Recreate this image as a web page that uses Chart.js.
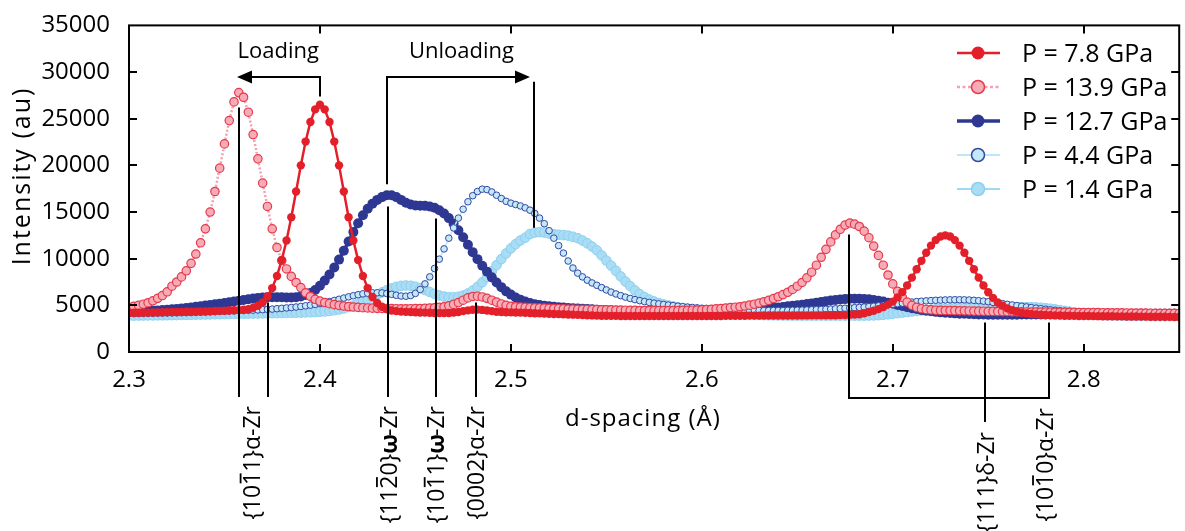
<!DOCTYPE html>
<html><head><meta charset="utf-8">
<script src="https://cdn.jsdelivr.net/npm/chart.js@4.4.1/dist/chart.umd.min.js"></script>
<style>html,body{margin:0;padding:0;background:#fff;}canvas{display:block;}</style>
</head><body>
<canvas id="c" width="1185" height="531"></canvas>
<script>
// ---------------- data ----------------
const dSpacing = [
2.3,2.3025,2.305,2.3075,2.31,2.3125,2.315,2.3175,2.32,2.3225,
2.325,2.3275,2.33,2.3325,2.335,2.3375,2.34,2.3425,2.345,2.3475,
2.35,2.3525,2.355,2.3575,2.36,2.3625,2.365,2.3675,2.37,2.3725,
2.375,2.3775,2.38,2.3825,2.385,2.3875,2.39,2.3925,2.395,2.3975,
2.4,2.4025,2.405,2.4075,2.41,2.4125,2.415,2.4175,2.42,2.4225,
2.425,2.4275,2.43,2.4325,2.435,2.4375,2.44,2.4425,2.445,2.4475,
2.45,2.4525,2.455,2.4575,2.46,2.4625,2.465,2.4675,2.47,2.4725,
2.475,2.4775,2.48,2.4825,2.485,2.4875,2.49,2.4925,2.495,2.4975,
2.5,2.5025,2.505,2.5075,2.51,2.5125,2.515,2.5175,2.52,2.5225,
2.525,2.5275,2.53,2.5325,2.535,2.5375,2.54,2.5425,2.545,2.5475,
2.55,2.5525,2.555,2.5575,2.56,2.5625,2.565,2.5675,2.57,2.5725,
2.575,2.5775,2.58,2.5825,2.585,2.5875,2.59,2.5925,2.595,2.5975,
2.6,2.6025,2.605,2.6075,2.61,2.6125,2.615,2.6175,2.62,2.6225,
2.625,2.6275,2.63,2.6325,2.635,2.6375,2.64,2.6425,2.645,2.6475,
2.65,2.6525,2.655,2.6575,2.66,2.6625,2.665,2.6675,2.67,2.6725,
2.675,2.6775,2.68,2.6825,2.685,2.6875,2.69,2.6925,2.695,2.6975,
2.7,2.7025,2.705,2.7075,2.71,2.7125,2.715,2.7175,2.72,2.7225,
2.725,2.7275,2.73,2.7325,2.735,2.7375,2.74,2.7425,2.745,2.7475,
2.75,2.7525,2.755,2.7575,2.76,2.7625,2.765,2.7675,2.77,2.7725,
2.775,2.7775,2.78,2.7825,2.785,2.7875,2.79,2.7925,2.795,2.7975,
2.8,2.8025,2.805,2.8075,2.81,2.8125,2.815,2.8175,2.82,2.8225,
2.825,2.8275,2.83,2.8325,2.835,2.8375,2.84,2.8425,2.845,2.8475,
2.85];

const intensity78 = [
4200,4200,4210,4220,4230,4240,4250,4260,4270,4280,
4290,4300,4310,4320,4330,4340,4350,4370,4390,4410,
4430,4450,4470,4490,4520,4600,4750,4950,5300,5950,
6850,8150,9850,11950,14450,17200,20000,22550,24650,26000,
26500,26000,24650,22550,20000,17200,14450,11950,9850,8150,
6850,5900,5250,4850,4600,4450,4380,4330,4300,4280,
4260,4240,4220,4200,4180,4170,4170,4180,4220,4290,
4380,4460,4520,4540,4510,4450,4380,4320,4280,4260,
4250,4240,4220,4200,4180,4160,4140,4120,4100,4080,
4060,4040,4020,4000,3980,3960,3940,3920,3900,3890,
3880,3875,3870,3865,3860,3860,3855,3855,3850,3850,
3850,3850,3850,3850,3850,3850,3850,3850,3850,3850,
3850,3850,3855,3860,3865,3870,3875,3880,3885,3890,
3895,3900,3900,3905,3905,3910,3910,3910,3915,3915,
3915,3920,3920,3925,3925,3930,3935,3940,3945,3950,
3960,3990,4020,4050,4150,4280,4420,4600,4820,5080,
5400,5850,6420,7130,7970,8860,9770,10640,11400,11990,
12370,12500,12370,11990,11400,10640,9770,8860,7970,7130,
6400,5800,5300,4950,4680,4480,4330,4220,4140,4080,
4030,3990,3960,3940,3920,3905,3890,3880,3870,3860,
3855,3850,3845,3840,3835,3830,3825,3820,3815,3810,
3805,3800,3795,3790,3785,3780,3775,3770,3765,3760,
3755];

const intensity139 = [
4800,4900,5000,5120,5280,5480,5750,6050,6450,7050,
7500,8050,8700,9500,10500,11700,13200,15000,17200,19700,
22300,24800,26800,27800,27300,25700,23300,20700,18100,15600,
13200,11200,9800,8900,8100,7450,6900,6350,5950,5650,
5450,5300,5180,5080,5000,4930,4870,4820,4780,4750,
4720,4700,4680,4670,4660,4650,4640,4630,4630,4640,
4650,4660,4680,4700,4730,4780,4850,4950,5100,5300,
5550,5800,5950,5980,5900,5750,5550,5350,5150,5000,
4900,4850,4820,4790,4760,4740,4720,4700,4680,4660,
4640,4620,4600,4590,4580,4570,4560,4550,4540,4530,
4520,4510,4500,4490,4480,4470,4460,4450,4450,4440,
4440,4440,4440,4440,4450,4450,4460,4470,4480,4500,
4520,4550,4580,4620,4660,4710,4760,4800,4850,4930,
5020,5120,5240,5380,5540,5720,5920,6150,6400,6700,
7050,7450,7950,8550,9300,10150,11000,11800,12550,13150,
13600,13820,13700,13450,12950,12250,11350,10350,9300,8250,
7300,6500,5850,5350,5000,4780,4640,4560,4510,4480,
4460,4450,4440,4430,4420,4410,4400,4390,4380,4370,
4360,4350,4340,4330,4320,4310,4300,4295,4290,4285,
4280,4275,4270,4265,4260,4255,4250,4245,4240,4235,
4230,4225,4220,4215,4210,4205,4200,4195,4190,4185,
4180,4175,4170,4165,4160,4155,4150,4145,4140,4135,
4130];

const intensity127 = [
4300,4320,4340,4360,4390,4420,4450,4490,4530,4570,
4620,4670,4720,4780,4840,4900,4970,5040,5110,5180,
5260,5340,5420,5500,5580,5650,5720,5780,5830,5860,
5880,5880,5870,5850,5850,5880,5960,6100,6320,6650,
7100,7650,8300,9050,9900,10850,11850,12850,13800,14650,
15350,15900,16300,16600,16800,16800,16600,16300,16000,15800,
15700,15680,15660,15600,15450,15200,14850,14350,13750,13050,
12300,11500,10700,9950,9250,8600,8000,7450,6950,6500,
6150,5850,5600,5400,5250,5130,5030,4950,4890,4840,
4800,4760,4720,4690,4660,4630,4600,4570,4540,4510,
4480,4450,4420,4390,4360,4330,4300,4270,4240,4210,
4180,4160,4140,4120,4100,4090,4080,4080,4080,4090,
4100,4120,4140,4170,4200,4240,4280,4330,4380,4430,
4480,4530,4580,4630,4680,4730,4780,4830,4890,4950,
5010,5070,5140,5210,5290,5370,5450,5520,5580,5630,
5670,5700,5710,5700,5680,5640,5580,5500,5400,5290,
5170,5050,4930,4810,4700,4600,4510,4430,4360,4300,
4250,4210,4170,4140,4110,4090,4070,4050,4030,4010,
4000,3990,3990,3990,3990,4000,4000,4010,4010,4020,
4020,4030,4030,4040,4040,4050,4050,4060,4060,4070,
4070,4070,4080,4080,4080,4090,4090,4090,4090,4100,
4100,4100,4100,4100,4100,4100,4100,4100,4100,4100,
4100];

const intensity44 = [
4100,4110,4120,4130,4140,4150,4160,4170,4180,4190,
4200,4210,4220,4230,4250,4270,4290,4310,4330,4350,
4370,4390,4410,4430,4450,4470,4490,4510,4540,4570,
4600,4640,4680,4720,4770,4820,4880,4950,5020,5100,
5190,5290,5400,5520,5650,5780,5910,6030,6140,6230,
6300,6340,6350,6330,6270,6180,6080,6000,5980,6050,
6280,6700,7300,8050,8950,9950,11050,12200,13300,14350,
15300,16100,16750,17200,17450,17400,17150,16800,16450,16150,
15950,15800,15650,15450,15200,14850,14350,13750,13000,12200,
11400,10600,9750,9000,8450,8050,7700,7400,7150,6900,
6650,6420,6220,6040,5880,5740,5610,5500,5400,5310,
5230,5160,5090,5030,4970,4910,4860,4810,4770,4730,
4690,4660,4630,4600,4580,4560,4540,4520,4500,4490,
4480,4470,4460,4450,4450,4450,4450,4450,4460,4470,
4480,4490,4500,4520,4540,4560,4580,4600,4630,4660,
4690,4720,4750,4780,4820,4860,4900,4950,5000,5060,
5120,5180,5240,5300,5350,5400,5440,5480,5510,5540,
5560,5580,5590,5600,5600,5590,5570,5540,5500,5450,
5390,5320,5250,5180,5110,5040,4970,4900,4830,4760,
4700,4640,4580,4520,4470,4420,4380,4340,4300,4270,
4240,4210,4180,4160,4140,4120,4100,4090,4080,4070,
4060,4050,4040,4030,4020,4010,4000,3990,3980,3970,
3960];

const intensity14 = [
3900,3900,3910,3910,3920,3920,3930,3930,3940,3950,
3960,3970,3980,3990,4000,4010,4020,4030,4040,4050,
4060,4070,4080,4090,4100,4110,4120,4130,4140,4150,
4160,4170,4180,4190,4200,4210,4220,4240,4260,4280,
4310,4350,4400,4470,4560,4670,4810,4980,5180,5400,
5640,5890,6140,6390,6620,6820,6980,7090,7130,7100,
7000,6840,6640,6430,6230,6060,5940,5870,5860,5920,
6050,6270,6580,6980,7470,8030,8650,9300,9950,10560,
11100,11560,11950,12250,12650,12800,12850,12800,12700,12620,
12570,12530,12470,12350,12200,11950,11650,11300,10900,10350,
9800,9250,8700,8100,7550,7050,6600,6200,5880,5620,
5410,5240,5100,4980,4880,4790,4710,4640,4570,4510,
4450,4390,4340,4290,4240,4200,4160,4120,4090,4060,
4030,4000,3980,3960,3940,3930,3920,3910,3910,3900,
3900,3900,3900,3900,3900,3900,3900,3900,3900,3900,
3900,3900,3900,3900,3900,3910,3920,3950,3990,4040,
4100,4160,4220,4280,4340,4390,4440,4490,4530,4570,
4610,4640,4670,4690,4710,4730,4740,4750,4760,4770,
4770,4770,4770,4780,4790,4800,4810,4810,4810,4800,
4780,4750,4700,4640,4570,4490,4410,4330,4250,4180,
4120,4070,4020,3980,3950,3930,3910,3900,3890,3880,
3875,3870,3865,3860,3855,3850,3850,3845,3845,3840,
3840];

const seriesLabels = ['P = 7.8 GPa','P = 13.9 GPa','P = 12.7 GPa','P = 4.4 GPa','P = 1.4 GPa'];
const xTicks = [2.3,2.4,2.5,2.6,2.7,2.8];
const yTicks = [0,5000,10000,15000,20000,25000,30000,35000];

// ---------------- styles & annotations ----------------
const FONT = '"Open Sans", "Noto Sans", sans-serif';
const allSeries = [intensity78, intensity139, intensity127, intensity44, intensity14];
const styles = [
  {line:'#e3202a', lw:2.5, dash:[],    r:4.2, fill:'#e3202a', stroke:'#e3202a', pbw:0,   order:1},
  {line:'#f4a0ae', lw:2.5, dash:[2,2], r:4.2, fill:'#f6abb7', stroke:'#e6394a', pbw:1.2, order:2},
  {line:'#2e3893', lw:3.5, dash:[],    r:5,   fill:'#2e3893', stroke:'#2e3893', pbw:0,   order:4},
  {line:'#bfe6f7', lw:1.5, dash:[],    r:3.3, fill:'#c3e8f8', stroke:'#3447a3', pbw:1,   order:3},
  {line:'#9fd9f3', lw:2,   dash:[],    r:4.8, fill:'#a9ddf5', stroke:'#8ccff0', pbw:1,   order:5}
];
// reflection marker lines: d-spacing, top (intensity), bottom (px below axis)
const markerLines = [
  {d:2.3577, top:26200, end:397},
  {d:2.3727, top:5300,  end:397},
  {d:2.4356, top:15600, end:397},
  {d:2.4608, top:14300, end:397},
  {d:2.4818, top:5300,  end:397},
  {d:2.6771, top:12600, end:398},
  {d:2.7485, top:3150,  end:422},
  {d:2.7819, top:3150,  end:398}
];
const reflLabels = [
  {text:'{101\u03041}\u03b1-Zr', d:2.3652, y:406},
  {text:'{112\u03040}\u03c9-Zr', d:2.4366, y:406},
  {text:'{101\u03041}\u03c9-Zr', d:2.4616, y:406},
  {text:'{0002}\u03b1-Zr',       d:2.4825, y:406},
  {text:'{111}\u03b4-Zr',        d:2.7494, y:432},
  {text:'{101\u03040}\u03b1-Zr', d:2.7802, y:408}
];

function pts(ys){ return dSpacing.map((d,i)=>({x:d, y:ys[i]})); }

function line(ctx,x1,y1,x2,y2){ ctx.beginPath(); ctx.moveTo(x1,y1); ctx.lineTo(x2,y2); ctx.stroke(); }
function arrowHead(ctx,x,y,dir){ // dir -1 left, +1 right
  ctx.beginPath(); ctx.moveTo(x,y); ctx.lineTo(x-dir*15,y-6.5); ctx.lineTo(x-dir*15,y+6.5); ctx.closePath(); ctx.fill();
}
function drawRotLabel(ctx,text,cx,yTop,fs){
  ctx.save();
  ctx.font = fs+'px '+FONT;
  const units=[];
  for (const ch of text){ if(ch==='\u0304'){ if(units.length) units[units.length-1].bar=true; } else units.push({ch:ch,bar:false}); }
  units.forEach(u=>{u.w=ctx.measureText(u.ch).width;});
  const W = units.reduce((a,u)=>a+u.w,0);
  ctx.translate(cx,yTop); ctx.rotate(-Math.PI/2);
  ctx.fillStyle='#000'; ctx.textAlign='left'; ctx.textBaseline='alphabetic';
  const base = 0.3*fs; let x=-W;
  units.forEach(u=>{
    if(u.ch==='\u03c9'){ ctx.font='bold '+fs+'px '+FONT; }
    ctx.fillText(u.ch,x,base);
    ctx.font = fs+'px '+FONT;
    if(u.bar){ ctx.fillRect(x+u.w*0.12, base-0.9*fs, u.w*0.76, 1.8); }
    x+=u.w; });
  ctx.restore();
}

const framePlugin = {
  id:'frame',
  afterDatasetsDraw(chart){
    const ctx=chart.ctx, a=chart.chartArea, xs=chart.scales.x, ys=chart.scales.y;
    ctx.save();
    ctx.strokeStyle='#000'; ctx.lineWidth=2;
    ctx.strokeRect(a.left,a.top,a.right-a.left,a.bottom-a.top);
    yTicks.forEach(v=>{ if(v===yTicks[0]||v===yTicks[yTicks.length-1]) return;
      const y=Math.round(ys.getPixelForValue(v));
      line(ctx,a.left,y,a.left+8,y); line(ctx,a.right-8,y,a.right,y); });
    xTicks.forEach(v=>{ if(v===xTicks[0]) return;
      const x=Math.round(xs.getPixelForValue(v));
      line(ctx,x,a.bottom,x,a.bottom-8); line(ctx,x,a.top,x,a.top+8); });
    ctx.restore();
  }
};

const annotPlugin = {
  id:'annot',
  afterDraw(chart){
    const ctx=chart.ctx, xs=chart.scales.x, ys=chart.scales.y;
    const X=d=>xs.getPixelForValue(d), Y=v=>ys.getPixelForValue(v);
    ctx.save();
    ctx.strokeStyle='#000'; ctx.fillStyle='#000'; ctx.lineWidth=2;
    markerLines.forEach(m=>{ const x=Math.round(X(m.d)); line(ctx,x,Y(m.top),x,m.end); });
    // bracket under delta / alpha lines
    line(ctx,Math.round(X(2.6771))-1,398,Math.round(X(2.7819))+1,398);
    // Loading arrow
    const yA=Math.round(Y(29500));
    const xL=Math.round(X(2.4001)), xLt=Math.round(X(2.3568));
    line(ctx,xL,yA,xLt+10,yA); arrowHead(ctx,xLt,yA,-1); line(ctx,xL,yA-1,xL,Y(27390));
    // Unloading arrow
    const xU=Math.round(X(2.4350)), xUt=Math.round(X(2.5101)), xUr=Math.round(X(2.5122));
    line(ctx,xU,yA,xUt-10,yA); arrowHead(ctx,xUt,yA,1);
    line(ctx,xU,yA-1,xU,Y(17980));
    line(ctx,xUr,Y(28970),xUr,Y(13320));
    ctx.font='22px '+FONT; ctx.textAlign='center'; ctx.textBaseline='alphabetic';
    ctx.fillText('Loading', X(2.3782), 58);
    ctx.fillText('Unloading', X(2.4741), 58);
    // reflection labels
    reflLabels.forEach(l=>drawRotLabel(ctx,l.text,X(l.d),l.y,23));
    // axis titles
    ctx.font='24px '+FONT; ctx.textAlign='left'; ctx.textBaseline='alphabetic';
    try{ ctx.letterSpacing='1px'; }catch(e){}
    ctx.fillText('d-spacing (\u00c5)', 565, 426);
    ctx.save();
    ctx.font='25px '+FONT;
    try{ ctx.letterSpacing='2px'; }catch(e){}
    ctx.translate(23,176); ctx.rotate(-Math.PI/2);
    ctx.textAlign='center'; ctx.textBaseline='middle';
    ctx.fillText('Intensity (au)',0,0);
    ctx.restore();
    ctx.restore();
  }
};

const legendPlugin = {
  id:'customLegend',
  afterDraw(chart){
    const ctx=chart.ctx;
    ctx.save();
    chart.data.datasets.forEach((ds,k)=>{
      const st=styles[k], y=53+34*k;
      ctx.strokeStyle=st.line; ctx.lineWidth=Math.max(st.lw,2); ctx.setLineDash(st.dash.length?[3,2.5]:[]);
      line(ctx,957,y,1000,y);
      ctx.setLineDash([]);
      ctx.beginPath(); ctx.arc(978,y,6.5,0,Math.PI*2);
      ctx.fillStyle=st.fill; ctx.fill();
      if(st.pbw>0){ ctx.lineWidth=1.5; ctx.strokeStyle=st.stroke; ctx.stroke(); }
      ctx.fillStyle='#000'; ctx.font='25px '+FONT; ctx.textAlign='left'; ctx.textBaseline='alphabetic';
      ctx.fillText(ds.label,1022,y+9);
    });
    ctx.restore();
  }
};

new Chart(document.getElementById('c').getContext('2d'), {
  type:'scatter',
  data:{ datasets: allSeries.map((ys,k)=>({
    label: seriesLabels[k], data: pts(ys), showLine:true,
    borderColor: styles[k].line, borderWidth: styles[k].lw, borderDash: styles[k].dash,
    pointRadius: styles[k].r, pointBackgroundColor: styles[k].fill,
    pointBorderColor: styles[k].stroke, pointBorderWidth: styles[k].pbw,
    order: styles[k].order, tension:0
  }))},
  options:{
    responsive:false, animation:false, devicePixelRatio:1,
    layout:{padding:{top:21,right:1,left:0,bottom:0}},
    plugins:{legend:{display:false}, tooltip:{enabled:false}},
    scales:{
      x:{type:'linear', min:2.3, max:2.85,
         afterFit(s){ s.height=179; },
         afterBuildTicks(s){ s.ticks=xTicks.map(v=>({value:v})); },
         grid:{display:false}, border:{display:false},
         ticks:{padding:6, color:'#000', font:{family:FONT,size:24}, maxRotation:0, autoSkip:false,
                callback:v=>Number(v).toFixed(1)}},
      y:{type:'linear', min:0, max:35000,
         afterFit(s){ s.width=129; },
         afterBuildTicks(s){ s.ticks=yTicks.map(v=>({value:v})); },
         grid:{display:false}, border:{display:false},
         ticks:{padding:11, color:'#000', font:{family:FONT,size:24}, callback:v=>String(v)}}
    }
  },
  plugins:[framePlugin, annotPlugin, legendPlugin]
});
</script>
</body></html>
